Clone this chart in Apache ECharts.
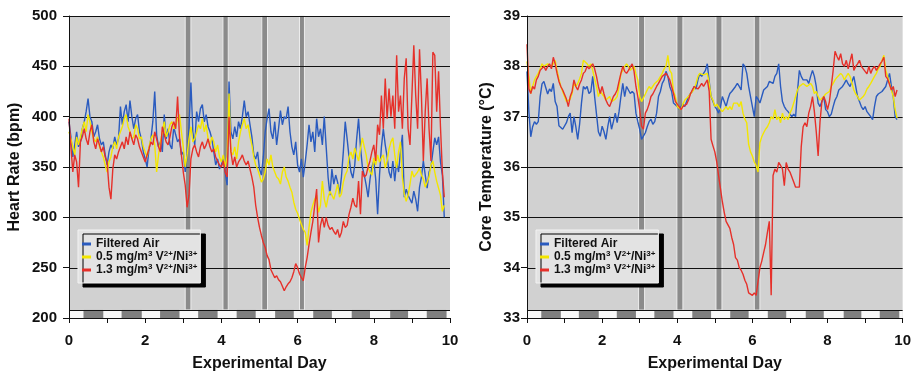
<!DOCTYPE html>
<html>
<head>
<meta charset="utf-8">
<title>Heart rate and core temperature</title>
<script src="https://cdn.jsdelivr.net/npm/echarts@6.0.0/dist/echarts.min.js"></script>
<style>
  html, body { margin: 0; padding: 0; background: #fff; }
  #chart { width: 914px; height: 377px; }
</style>
</head>
<body>
<div id="chart"></div>
<script>
// samples every 0.05 day, starting at day 0
const DAY_STEP = 0.05;

const seriesNames = ['Filtered Air', '0.5 mg/m³ V²⁺/Ni³⁺', '1.3 mg/m³ V²⁺/Ni³⁺'];
const seriesColors = ['#2a5bbf', '#f3e600', '#e6302a'];

// heart rate (bpm)
const hrFiltered = [
  395, 380, 360, 372, 385, 370, 375, 388, 395, 405, 418, 400, 395, 380, 385, 392, 378, 372, 375, 362,
  352, 365, 372, 368, 380, 372, 378, 410, 392, 405, 412, 395, 416, 400, 388, 398, 402, 385, 378, 365,
  358, 350, 368, 378, 395, 425, 382, 370, 375, 365, 402, 378, 388, 372, 368, 390, 382, 375, 378, 362,
  365, 345, 362, 390, 434, 385, 372, 405, 395, 408, 412, 395, 402, 390, 385, 378, 365, 352, 358, 348,
  352, 360, 345, 332, 435, 385, 378, 390, 380, 395, 388, 400, 416, 400, 405, 392, 380, 362, 358, 365,
  348, 342, 360, 385, 398, 408, 385, 378, 395, 372, 388, 406, 392, 400, 398, 410, 385, 370, 362, 375,
  352, 345, 358, 340, 355, 372, 392, 375, 385, 365, 398, 380, 388, 372, 400, 370, 340, 322, 348, 333,
  342, 335, 323, 340, 365, 395, 378, 360, 345, 339, 352, 378, 398, 370, 350, 342, 332, 320, 338, 350,
  356, 338, 303, 342, 370, 388, 372, 360, 345, 339, 356, 336, 355, 345, 365, 382, 320, 328, 322, 318,
  314, 326, 318, 306, 330, 340, 356, 342, 329, 345, 350, 365, 379, 372, 380, 355, 342, 300
];
const hrLow = [
  385, 378, 370, 362, 380, 372, 380, 388, 395, 385, 402, 395, 385, 378, 375, 380, 370, 365, 360, 352,
  345, 355, 360, 370, 375, 368, 380, 385, 390, 398, 402, 390, 385, 378, 380, 392, 388, 378, 380, 370,
  365, 360, 370, 378, 382, 372, 345, 362, 375, 385, 395, 380, 385, 392, 395, 388, 390, 398, 402, 385,
  370, 350, 362, 378, 390, 375, 378, 385, 392, 388, 398, 385, 392, 378, 372, 380, 375, 365, 372, 360,
  355, 362, 350, 360, 423, 365, 362, 370, 358, 375, 385, 392, 398, 388, 392, 380, 372, 360, 352, 348,
  342, 335, 338, 345, 358, 352, 362, 350, 345, 340, 338, 333, 345, 350, 340, 336, 330, 325, 315, 308,
  304, 298, 293, 288, 285, 272, 290, 305, 312, 318, 322, 305, 312, 336, 318, 310, 320, 326, 322, 318,
  325, 333, 320, 323, 335, 342, 346, 360, 365, 358, 369, 362, 356, 368, 379, 370, 362, 349, 345, 342,
  359, 352, 362, 355, 359, 362, 349, 356, 368, 375, 379, 362, 349, 365, 375, 340, 323, 316, 322, 333,
  346, 340, 339, 345, 349, 342, 338, 330, 329, 340, 352, 356, 345, 336, 329, 322, 306, 312
];
const hrHigh = [
  398, 370, 345, 362, 355, 330, 375, 380, 388, 378, 372, 385, 392, 375, 368, 378, 372, 365, 370, 360,
  355, 330, 318, 348, 362, 358, 365, 370, 375, 368, 380, 372, 385, 378, 372, 382, 378, 370, 365, 360,
  355, 362, 368, 375, 372, 385, 378, 370, 365, 390, 382, 375, 372, 380, 390, 395, 388, 420, 380, 362,
  345, 332, 310, 322, 358, 368, 372, 365, 360, 370, 375, 368, 372, 378, 370, 365, 368, 360, 356, 352,
  350, 356, 345, 340, 400, 365, 352, 360, 350, 355, 358, 362, 356, 352, 356, 348, 340, 330, 312, 300,
  290, 282, 275, 270, 262, 258, 248, 244, 240, 242, 238, 236, 237, 227, 231, 234, 236, 240, 246, 254,
  250, 244, 240, 237, 250, 260, 273, 285, 296, 312, 328, 275, 292, 300, 290, 300, 292, 288, 290, 286,
  283, 288, 280, 285, 296, 290, 292, 303, 310, 319, 312, 310, 336, 303, 346, 340, 342, 350, 356, 365,
  372, 356, 392, 382, 421, 388, 438, 398, 428, 400, 421, 388, 461, 405, 421, 388, 438, 458, 388, 372,
  421, 471, 421, 388, 467, 421, 356, 405, 438, 388, 356, 464, 461, 405, 445, 390, 345, 320
];

// core temperature (°C)
const tempFiltered = [
  37.9, 37.1, 36.6, 36.8, 36.9, 36.85, 36.9, 37.4, 37.65, 37.7, 37.73, 37.45, 37.55, 37.5, 37.66, 37.3, 37.2, 36.82, 36.8, 36.75,
  36.75, 36.88, 37.0, 37.07, 36.68, 37.0, 36.8, 36.55, 36.85, 37.27, 37.6, 37.55, 37.6, 37.46, 37.5, 37.8, 37.4, 37.05, 36.7, 36.61,
  36.81, 36.7, 36.55, 36.8, 37.0, 36.75, 36.9, 37.07, 36.88, 37.1, 37.4, 37.66, 37.4, 37.6, 37.53, 37.46, 37.5, 37.46, 37.07, 36.9,
  36.75, 36.55, 36.52, 36.68, 36.8, 36.9, 36.95, 36.85, 36.9, 37.07, 37.4, 37.5, 37.66, 37.73, 37.9, 37.8, 37.6, 37.5, 37.27, 37.3,
  37.2, 37.15, 37.14, 37.25, 37.2, 37.3, 37.4, 37.46, 37.5, 37.6, 37.55, 37.73, 37.86, 37.8, 37.8, 37.92, 38.05, 37.7, 37.4, 37.4,
  37.2, 37.15, 37.07, 37.2, 37.4, 37.3, 37.2, 37.35, 37.46, 37.5, 37.53, 37.6, 37.66, 37.6, 37.53, 38.05, 38.0, 37.86, 37.6, 37.4,
  37.2, 37.0, 37.4, 37.35, 37.27, 37.4, 37.53, 37.5, 37.6, 37.7, 37.73, 37.66, 37.8, 37.86, 38.05, 37.6, 37.3, 37.2, 37.14, 37.1,
  37.07, 37.0, 37.05, 37.0, 37.5, 37.92, 37.8, 37.73, 37.75, 37.73, 37.66, 37.8, 37.92, 37.8, 37.6, 37.27, 37.2, 37.3, 37.4, 37.14,
  37.1, 37.0, 37.05, 37.2, 37.33, 37.4, 37.53, 37.55, 37.6, 37.66, 37.73, 37.65, 37.6, 37.7, 37.8, 37.6, 37.4, 37.3, 37.2, 37.14,
  37.2, 37.1, 37.07, 37.0, 36.94, 37.2, 37.4, 37.45, 37.46, 37.5, 37.53, 37.6, 37.6, 37.86, 37.6, 37.4, 37.0, 36.94
];
const tempLow = [
  38.1, 37.8, 37.46, 37.6, 37.73, 37.8, 37.86, 37.95, 38.05, 38.0, 38.0, 38.05, 38.05, 38.0, 38.05, 38.12, 37.92, 37.75, 37.6, 37.5,
  37.4, 37.3, 37.27, 37.35, 37.46, 37.66, 37.6, 37.66, 37.75, 37.86, 38.12, 38.1, 38.05, 38.0, 38.05, 37.92, 37.75, 37.6, 37.4, 37.5,
  37.53, 37.4, 37.33, 37.35, 37.4, 37.3, 37.27, 37.35, 37.4, 37.6, 37.86, 37.92, 38.0, 38.05, 38.0, 37.92, 37.95, 38.0, 37.85, 37.73,
  37.4, 37.3, 37.27, 37.45, 37.53, 37.6, 37.55, 37.53, 37.66, 37.66, 37.73, 37.75, 37.86, 37.95, 38.0, 38.22, 37.92, 37.86, 37.5, 37.4,
  37.2, 37.2, 37.14, 37.25, 37.33, 37.36, 37.4, 37.45, 37.46, 37.55, 37.66, 37.8, 37.86, 37.86, 37.83, 37.8, 37.86, 37.66, 37.4, 37.33,
  37.2, 37.25, 37.27, 37.14, 37.1, 37.07, 37.2, 37.14, 37.2, 37.14, 37.27, 37.25, 37.27, 37.2, 37.3, 37.07, 36.95, 36.88, 36.45, 36.3,
  36.22, 36.1, 36.03, 35.9, 36.48, 36.6, 36.68, 36.75, 36.8, 36.88, 37.0, 36.95, 37.14, 36.94, 37.0, 36.88, 37.07, 36.94, 37.0, 36.94,
  37.07, 37.15, 37.27, 37.4, 37.53, 37.6, 37.6, 37.66, 37.66, 37.6, 37.6, 37.66, 37.6, 37.46, 37.5, 37.4, 37.33, 37.35, 37.4, 37.45,
  37.46, 37.5, 37.6, 37.66, 37.73, 37.78, 37.8, 37.86, 37.82, 37.73, 37.8, 37.86, 37.8, 37.8, 37.53, 37.45, 37.4, 37.33, 37.35, 37.4,
  37.46, 37.55, 37.6, 37.66, 37.73, 37.8, 37.86, 37.95, 38.0, 38.12, 38.22, 37.92, 37.8, 37.66, 37.53, 37.4, 37.14, 36.97
];
const tempHigh = [
  38.44, 37.55, 37.46, 37.6, 37.55, 37.73, 37.8, 37.92, 37.95, 38.0, 37.92, 38.0, 38.05, 37.95, 38.18, 38.05, 37.86, 37.7, 37.6, 37.53,
  37.5, 37.35, 37.2, 37.4, 37.5, 37.73, 37.6, 37.53, 37.65, 37.73, 37.86, 37.9, 38.0, 37.95, 37.92, 38.05, 37.95, 37.8, 37.6, 37.46,
  37.6, 37.45, 37.33, 37.25, 37.2, 37.3, 37.4, 37.45, 37.53, 37.7, 37.86, 38.0, 37.9, 37.86, 37.92, 37.95, 38.05, 37.9, 37.6, 37.4,
  37.14, 36.81, 36.75, 37.07, 37.14, 37.25, 37.4, 37.45, 37.46, 37.6, 37.66, 37.73, 37.8, 37.8, 37.86, 37.8, 37.73, 37.6, 37.46, 37.3,
  37.27, 37.2, 37.14, 37.2, 37.2, 37.25, 37.33, 37.45, 37.53, 37.6, 37.6, 37.55, 37.6, 37.66, 37.6, 37.6, 37.73, 37.5, 36.55, 36.42,
  36.3, 36.1, 35.83, 35.57, 35.31, 35.1, 34.92, 34.85, 34.78, 34.6, 34.46, 34.2, 34.15, 34.0, 33.95, 33.87, 33.75, 33.67, 33.5, 33.48,
  33.45, 33.5, 33.45, 33.45, 34.0, 34.13, 34.3, 34.46, 34.7, 34.92, 33.45, 35.83, 35.96, 35.9, 36.09, 36.03, 35.96, 35.63, 36.09, 35.96,
  35.9, 35.8, 35.7, 35.6, 35.57, 35.6, 36.4, 36.8, 36.88, 36.8, 37.07, 37.2, 37.4, 37.1, 36.7, 36.22, 36.9, 37.3, 37.4, 37.3,
  37.14, 37.3, 37.6, 37.92, 38.3, 38.2, 38.12, 38.25, 38.05, 38.0, 38.12, 37.95, 37.92, 38.25, 37.92, 38.0, 38.05, 38.12, 38.0, 37.95,
  37.92, 37.85, 38.0, 37.86, 37.95, 38.0, 37.92, 37.95, 38.05, 38.1, 38.18, 37.8, 37.75, 37.73, 37.53, 37.6, 37.4, 37.53
];

// exposure periods (day), as drawn in each panel
const hrExposures = [[3.05, 3.2], [4.04, 4.18], [5.06, 5.21], [6.05, 6.18]];
const tempExposures = [[2.97, 3.13], [3.99, 4.15], [5.03, 5.19], [6.05, 6.2]];

// dark phase of the light/dark cycle (day)
const darkStart = [0.38, 1.38, 2.39, 3.39, 4.4, 5.41, 6.41, 7.42, 8.43, 9.39];
const darkEnd = [0.9, 1.91, 2.9, 3.9, 4.9, 5.9, 6.9, 7.9, 8.9, 9.91];

// axis ticks
const hrTicks = [250, 300, 350, 400, 450, 500];
const tempTicks = [34, 35, 36, 37, 38, 39];

const FONT = '"Liberation Sans", Arial, Helvetica, sans-serif';
const PLOT_BG = '#d1d1d1';
const BAND = '#8b8b8b';

function toPoints(values) {
  return values.map((v, i) => [+(i * DAY_STEP).toFixed(2), v]);
}

// turn ² ³ ⁺ into small raised rich-text pieces
const SUP = {'²': '2', '³': '3', '⁺': '+'};
function richName(name) {
  return name.replace(/([^²³⁺]+)|([²³⁺]+)/g, (m, plain, sup) =>
    plain ? '{n|' + plain + '}' : '{s|' + sup.split('').map(c => SUP[c]).join('') + '}');
}

// background pieces: exposure bands, light/dark bar, grid lines
function buildDecor(exposures, yMin, yMax, barTop, ticks) {
  const items = [];
  exposures.forEach(e => items.push({x0: e[0], x1: e[1], y0: barTop, y1: yMax,
    style: {fill: BAND, stroke: '#ececec', lineWidth: 1}}));
  items.push({x0: 0, x1: 10, y0: yMin, y1: barTop, style: {fill: '#f8f8f8'}});
  darkStart.forEach((s, k) => items.push({x0: s, x1: darkEnd[k], y0: yMin, y1: barTop,
    style: {fill: '#7f7f7f'}}));
  items.push({x0: 0, x1: 10, y0: barTop, y1: barTop, line: true});
  ticks.forEach(t => items.push({x0: 0, x1: 10, y0: t, y1: t, line: true}));
  return items;
}

function decorSeries(idx, items) {
  return {
    type: 'custom',
    name: 'decor' + idx,
    xAxisIndex: idx,
    yAxisIndex: idx,
    z: 1,
    silent: true,
    data: items.map(d => [d.x0, d.x1, d.y0, d.y1]),
    renderItem(params, api) {
      const d = items[params.dataIndex];
      const a = api.coord([d.x0, d.y1]);
      const b = api.coord([d.x1, d.y0]);
      if (d.line) {
        const y = Math.round(b[1]) + 0.5;
        return {type: 'line', shape: {x1: a[0], y1: y, x2: b[0], y2: y},
          style: {stroke: '#111', lineWidth: 1}};
      }
      return {type: 'rect', shape: {x: a[0], y: a[1], width: b[0] - a[0], height: b[1] - a[1]},
        style: d.style};
    }
  };
}

function lineSeries(idx, values, k) {
  return {
    type: 'line',
    name: seriesNames[k],
    xAxisIndex: idx,
    yAxisIndex: idx,
    z: 2,
    data: toPoints(values),
    showSymbol: false,
    symbol: 'none',
    itemStyle: {color: seriesColors[k]},
    lineStyle: {color: seriesColors[k], width: 1.4}
  };
}

function xAxisCfg(idx) {
  return {
    type: 'value', gridIndex: idx, min: 0, max: 10, interval: 1, z: 3,
    name: 'Experimental Day', nameLocation: 'middle', nameGap: 38,
    nameTextStyle: {fontFamily: FONT, fontWeight: 'bold', fontSize: 16, color: '#111'},
    axisLine: {lineStyle: {color: '#111', width: 1}},
    axisTick: {show: true, length: 5, lineStyle: {color: '#111'}},
    axisLabel: {fontFamily: FONT, fontWeight: 'bold', fontSize: 15, color: '#111', margin: 15,
      formatter: v => (v % 2 === 0 ? String(v) : '')},
    splitLine: {show: false}
  };
}

function yAxisCfg(idx, name, min, max, interval, gap, margin) {
  return {
    type: 'value', gridIndex: idx, min, max, interval, z: 3,
    name, nameLocation: 'middle', nameGap: gap,
    nameTextStyle: {fontFamily: FONT, fontWeight: 'bold', fontSize: 16, color: '#111'},
    axisLine: {show: true, lineStyle: {color: '#111', width: 1}},
    axisTick: {show: true, length: 6, lineStyle: {color: '#111'}},
    axisLabel: {fontFamily: FONT, fontWeight: 'bold', fontSize: 15, color: '#111', margin},
    splitLine: {show: false}
  };
}

function legendCfg(left) {
  return {
    orient: 'vertical', left, top: 230,
    data: seriesNames,
    icon: 'rect', itemWidth: 9, itemHeight: 3, itemGap: 0,
    padding: [8, 3, 7, 4],
    backgroundColor: '#e3e3e3',
    borderColor: '#f2f2f2', borderWidth: 1,
    shadowColor: '#000', shadowBlur: 0, shadowOffsetX: 5, shadowOffsetY: 4,
    selectedMode: false,
    formatter: richName,
    textStyle: {
      fontFamily: FONT, fontWeight: 'bold', fontSize: 12, color: '#111',
      rich: {
        n: {fontFamily: FONT, fontWeight: 'bold', fontSize: 12, lineHeight: 14, color: '#111'},
        s: {fontFamily: FONT, fontWeight: 'bold', fontSize: 8, color: '#111', verticalAlign: 'top'}
      }
    }
  };
}

const chart = echarts.init(document.getElementById('chart'));

chart.setOption({
  animation: false,
  backgroundColor: '#fff',
  grid: [
    {left: 69, top: 16, width: 381, height: 306, show: true, backgroundColor: PLOT_BG, borderWidth: 0},
    {left: 527, top: 16, width: 377, height: 306, show: true, backgroundColor: PLOT_BG, borderWidth: 0}
  ],
  legend: [legendCfg(78), legendCfg(536)],
  xAxis: [xAxisCfg(0), xAxisCfg(1)],
  yAxis: [
    yAxisCfg(0, 'Heart Rate (bpm)', 200, 500, 50, 46, 12),
    yAxisCfg(1, 'Core Temperature (°C)', 33, 39, 1, 32, 7)
  ],
  series: [
    decorSeries(0, buildDecor(hrExposures, 200, 500, 208, hrTicks)),
    decorSeries(1, buildDecor(tempExposures, 33, 39, 33.157, tempTicks)),
    lineSeries(0, hrFiltered, 0),
    lineSeries(0, hrLow, 1),
    lineSeries(0, hrHigh, 2),
    lineSeries(1, tempFiltered, 0),
    lineSeries(1, tempLow, 1),
    lineSeries(1, tempHigh, 2)
  ]
});

window.addEventListener('resize', () => chart.resize());
</script>
</body>
</html>
